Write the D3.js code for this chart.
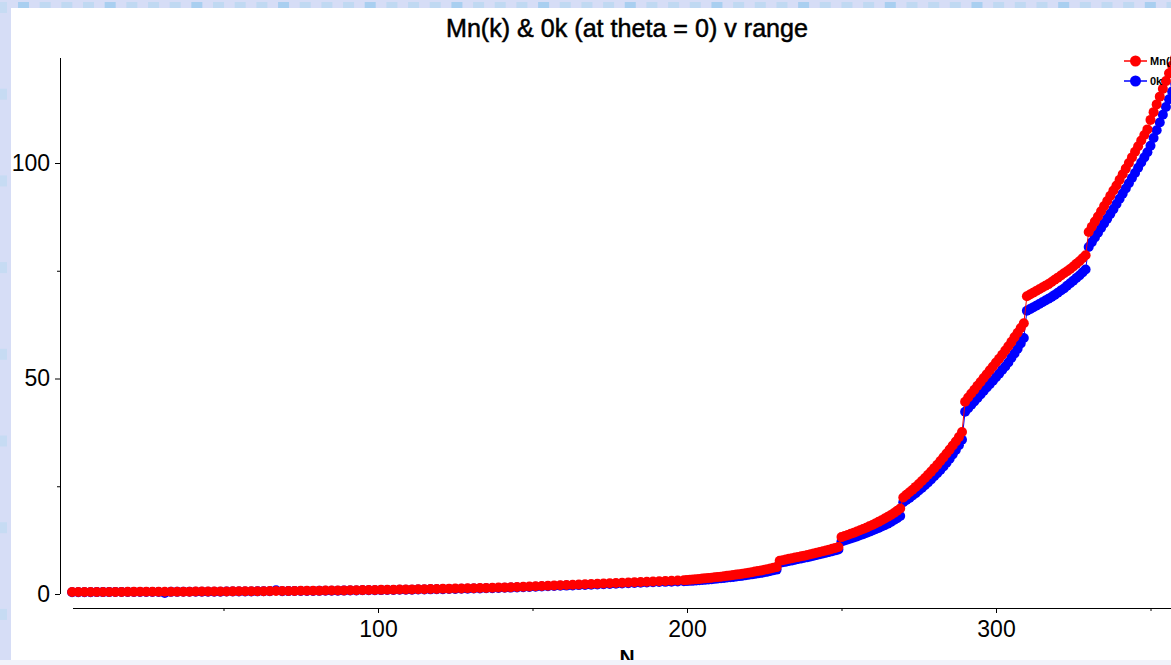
<!DOCTYPE html>
<html><head><meta charset="utf-8">
<script src="https://cdn.jsdelivr.net/npm/d3@7"></script>
<style>html,body{margin:0;padding:0;overflow:hidden;background:#d6ddf6}svg{display:block}</style>
</head><body>
<script>
// ---- data ----
const N = [1,3,5,7,9,11,13,15,17,19,21,23,25,27,29,31,33,35,37,39,41,43,45,47,49,51,53,55,57,59,61,63,65,67,69,71,73,75,77,79,81,83,85,87,89,91,93,95,97,99,101,103,105,107,109,111,113,115,117,119,121,123,125,127,129,131,133,135,137,139,141,143,145,147,149,151,153,155,157,159,161,163,165,167,169,171,173,175,177,179,181,183,185,187,189,191,193,195,197,199,
200,201,202,203,204,205,206,207,208,209,210,211,212,213,214,215,216,217,218,219,220,221,222,223,224,225,226,227,228,229,
230,231,232,233,234,235,236,237,238,239,240,241,242,243,244,245,246,247,248,249,250,251,252,253,254,255,256,257,258,259,
260,261,262,263,264,265,266,267,268,269,270,271,272,273,274,275,276,277,278,279,280,281,282,283,284,285,286,287,288,289,
290,291,292,293,294,295,296,297,298,299,300,301,302,303,304,305,306,307,308,309,310,311,312,313,314,315,316,317,318,319,
320,321,322,323,324,325,326,327,328,329,330,331,332,333,334,335,336,337,338,339,340,341,342,343,344,345,346,347,348,349,
350,351,352,353,354,355,356,357,358,359,360];

const mnK = [
0.46,0.46,0.47,0.47,0.48,0.48,0.48,0.49,0.49,0.5,
0.5,0.51,0.51,0.52,0.52,0.53,0.54,0.54,0.55,0.55,
0.56,0.57,0.58,0.58,0.59,0.6,0.61,0.62,0.63,0.64,
0.65,0.66,0.67,0.68,0.7,0.71,0.72,0.74,0.75,0.77,
0.78,0.8,0.81,0.83,0.84,0.86,0.88,0.9,0.92,0.94,
0.96,0.98,1.0,1.03,1.05,1.07,1.1,1.12,1.15,1.17,
1.2,1.23,1.26,1.29,1.32,1.35,1.38,1.42,1.45,1.49,
1.53,1.58,1.63,1.68,1.74,1.8,1.86,1.92,1.97,2.03,
2.08,2.14,2.2,2.26,2.32,2.38,2.44,2.5,2.56,2.62,
2.68,2.74,2.8,2.86,2.91,2.97,3.03,3.08,3.14,3.2,
3.25,3.31,3.37,3.43,3.5,3.57,3.64,3.71,3.79,3.87,
3.95,4.03,4.12,4.21,4.3,4.4,4.5,4.61,4.72,4.83,
4.95,5.07,5.2,5.33,5.47,5.61,5.76,5.91,6.07,6.24,
7.7,7.85,8.0,8.15,8.3,8.45,8.6,8.75,8.9,9.06,
9.22,9.39,9.56,9.73,9.91,10.1,10.29,10.49,10.7,10.92,
13.2,13.45,13.7,13.96,14.23,14.5,14.79,15.08,15.38,15.7,
16.03,16.38,16.74,17.12,17.51,17.92,18.35,18.8,19.3,19.85,
22.4,23.0,23.6,24.2,24.85,25.5,26.2,26.9,27.65,28.4,
29.2,30.0,30.85,31.7,32.6,33.5,34.45,35.4,36.4,37.6,
44.6,45.6,46.5,47.4,48.3,49.2,50.1,51.0,51.9,52.8,
53.7,54.6,55.5,56.5,57.5,58.5,59.6,60.6,61.7,62.8,
69.1,69.5,69.9,70.3,70.7,71.1,71.5,71.9,72.4,72.9,
73.4,73.9,74.4,74.9,75.4,76.0,76.6,77.2,77.9,78.6,
84.0,85.2,86.4,87.6,88.8,90.0,91.2,92.4,93.6,94.8,
96.1,97.4,98.7,100.0,101.3,102.6,103.9,105.2,106.5,107.8,
110.0,111.8,113.6,115.4,117.2,119.0,120.8,122.6,124.4,126.2,128.0];

const zeroK = [
0.42,0.42,0.43,0.43,0.44,0.44,0.44,0.45,0.45,0.46,
0.46,0.47,0.47,0.48,0.48,0.25,0.5,0.5,0.51,0.51,
0.52,0.53,0.54,0.54,0.55,0.56,0.57,0.58,0.59,0.6,
0.61,0.62,0.63,0.85,0.66,0.67,0.68,0.7,0.71,0.72,
0.73,0.75,0.76,0.78,0.79,0.81,0.83,0.85,0.87,0.88,
0.9,0.92,0.94,0.97,0.99,1.01,1.03,1.05,1.08,1.1,
1.13,1.16,1.18,1.21,1.24,1.27,1.3,1.33,1.36,1.4,
1.44,1.48,1.53,1.58,1.63,1.69,1.74,1.8,1.85,1.9,
1.95,2.0,2.06,2.11,2.17,2.22,2.28,2.33,2.39,2.44,
2.5,2.55,2.61,2.66,2.71,2.77,2.82,2.87,2.92,2.98,
3.0,3.05,3.1,3.15,3.2,3.26,3.32,3.38,3.44,3.51,
3.58,3.65,3.73,3.81,3.89,3.97,4.06,4.15,4.25,4.35,
4.45,4.56,4.67,4.79,4.91,5.04,5.18,5.33,5.49,5.66,
7.2,7.35,7.5,7.65,7.8,7.95,8.1,8.25,8.4,8.55,
8.71,8.87,9.04,9.21,9.38,9.56,9.74,9.93,10.13,10.34,
12.2,12.42,12.65,12.88,13.12,13.37,13.62,13.88,14.15,14.43,
14.72,15.02,15.33,15.65,15.98,16.33,16.7,17.15,17.6,18.1,
21.3,21.8,22.3,22.85,23.4,24.0,24.6,25.25,25.9,26.6,
27.3,28.05,28.8,29.6,30.45,31.4,32.4,33.4,34.5,35.8,
42.3,43.1,43.9,44.7,45.5,46.3,47.1,47.9,48.7,49.5,
50.3,51.1,52.0,52.8,53.7,54.8,55.8,56.9,58.1,59.4,
65.7,66.1,66.5,66.9,67.3,67.7,68.1,68.5,68.9,69.4,
69.9,70.4,70.9,71.5,72.1,72.7,73.3,73.9,74.6,75.3,
80.5,81.6,82.7,83.8,84.9,86.0,87.1,88.2,89.3,90.5,
91.7,92.9,94.1,95.3,96.5,97.7,98.9,100.1,101.3,102.5,
104.0,105.8,107.6,109.4,111.2,113.0,114.8,116.6,118.4,120.2,122.0];

const xMajorTicks = [100, 200, 300];
const xMinorTicks = [50, 150, 250, 350];
const yMajorTicks = [0, 50, 100];
const yMinorTicks = [25, 75];
const seriesNames = ["Mn(k)", "0k"];
const seriesColors = ["#ff0000", "#0000ff"];
const titleText = "Mn(k) & 0k (at theta = 0) v range";
const xLabel = "N";

// ---- drawing ----
const W = 1171, H = 665;
const FONT = "'Liberation Sans', Arial, Helvetica, sans-serif";
const svg = d3.select("body").append("svg").attr("width", W).attr("height", H);

// page background
svg.append("rect").attr("width", W).attr("height", H).attr("fill", "#d6ddf6");
const topSq = d3.range(0, 56);
svg.selectAll(".tsq").data(topSq).join("rect")
  .attr("x", i => 18 + i * 21.67).attr("y", 2).attr("width", 11).attr("height", 11)
  .attr("fill", i => i % 4 === 0 ? "#a9cff0" : "#c0d9f2");
const leftSq = d3.range(0, 8);
svg.selectAll(".lsq").data(leftSq).join("rect")
  .attr("x", -4).attr("y", i => 2 + i * 86.7).attr("width", 11).attr("height", 11)
  .attr("fill", "#c6dbf3");
svg.append("rect").attr("x", 11).attr("y", 8).attr("width", W - 11).attr("height", 652).attr("fill", "#ffffff");

const x = d3.scaleLinear().domain([0, 300]).range([69, 996]);
const y = d3.scaleLinear().domain([0, 100]).range([594, 163]);

// title
svg.append("text").attr("x", 627).attr("y", 37).attr("text-anchor", "middle")
  .attr("font-family", FONT).attr("font-size", 25).attr("font-weight", "normal")
  .attr("stroke", "#000").attr("stroke-width", 0.5)
  .attr("textLength", 362).attr("lengthAdjust", "spacingAndGlyphs")
  .text(titleText);

// x axis
const gx = svg.append("g").attr("transform", "translate(0,608)");
gx.call(d3.axisBottom(x).tickValues(xMajorTicks).tickSizeInner(5).tickSizeOuter(0).tickPadding(8).tickFormat(d3.format("d")));
const gx2 = svg.append("g").attr("transform", "translate(0,608)");
gx2.call(d3.axisBottom(x).tickValues(xMinorTicks).tickSizeInner(3).tickSizeOuter(0).tickFormat(""));
[gx, gx2].forEach(g => g.select(".domain").remove());
gx.selectAll("text").attr("font-size", 23).attr("font-family", FONT).attr("fill", "#000");
svg.selectAll("g .tick line").attr("stroke", "#000");
svg.append("line").attr("x1", 73).attr("x2", W).attr("y1", 608.5).attr("y2", 608.5).attr("stroke", "#000");

// y axis
const gy = svg.append("g").attr("transform", "translate(60,0)");
gy.call(d3.axisLeft(y).tickValues(yMajorTicks).tickSizeInner(5).tickSizeOuter(0).tickPadding(5).tickFormat(d3.format("d")));
const gy2 = svg.append("g").attr("transform", "translate(60,0)");
gy2.call(d3.axisLeft(y).tickValues(yMinorTicks).tickSizeInner(3).tickSizeOuter(0).tickFormat(""));
[gy, gy2].forEach(g => g.select(".domain").remove());
gy.selectAll("text").attr("font-size", 23).attr("font-family", FONT).attr("fill", "#000");
svg.append("line").attr("x1", 60.5).attr("x2", 60.5).attr("y1", 58).attr("y2", y(0)).attr("stroke", "#000");

// x label
svg.append("text").attr("x", 627).attr("y", 664).attr("text-anchor", "middle")
  .attr("font-family", FONT).attr("font-size", 21).attr("font-weight", "bold").text(xLabel);

// series (blue under red)
const seriesData = [mnK, zeroK];
const line = d3.line().x((d, i) => x(N[i])).y(d => y(d));
[1, 0].forEach(s => {
  const vals = seriesData[s];
  const g = svg.append("g");
  g.append("path").datum(vals).attr("d", line).attr("fill", "none")
    .attr("stroke", seriesColors[s]).attr("stroke-width", 1);
  g.selectAll("circle").data(vals).join("circle")
    .attr("cx", (d, i) => x(N[i])).attr("cy", d => y(d)).attr("r", 5)
    .attr("fill", seriesColors[s]);
});

// legend
const leg = svg.append("g");
seriesNames.forEach((name, i) => {
  const ly = 61 + i * 20;
  leg.append("line").attr("x1", 1124).attr("x2", 1147).attr("y1", ly).attr("y2", ly)
    .attr("stroke", seriesColors[i]).attr("stroke-width", 1.5);
  leg.append("circle").attr("cx", 1135.5).attr("cy", ly).attr("r", 5.5).attr("fill", seriesColors[i]);
  leg.append("text").attr("x", 1150).attr("y", ly + 4).attr("font-family", FONT)
    .attr("font-size", 11).attr("font-weight", "bold").attr("fill", "#000").text(name);
});

// bottom strip (clips the x label)
svg.append("rect").attr("x", 0).attr("y", 660).attr("width", W).attr("height", 5).attr("fill", "#f1f3fa");
</script>
</body></html>
